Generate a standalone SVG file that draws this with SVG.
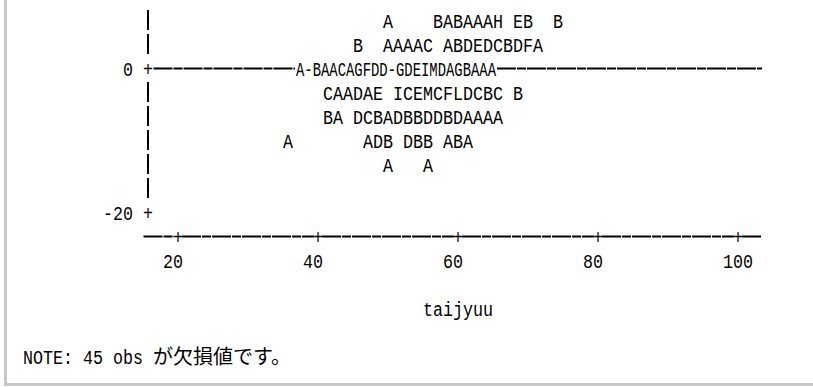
<svg xmlns="http://www.w3.org/2000/svg" width="813" height="387" viewBox="0 0 813 387">
<style>
.t{font-family:"Liberation Mono","DejaVu Sans Mono",monospace;font-size:20px;fill:#000}
.j{font-family:"Noto Sans CJK JP","Liberation Sans",sans-serif;font-size:20px;fill:#000}
.bar{stroke:#000;stroke-width:2;fill:none}
.dash{stroke:#000;stroke-width:2;fill:none;stroke-dasharray:19 1 9 1}
.frame{stroke:#c8c8c8;stroke-width:3;fill:none}
</style>
<g id="frame">
<line class="frame" x1="5.5" y1="0" x2="5.5" y2="385"/>
<line class="frame" x1="4" y1="384.5" x2="813" y2="384.5"/>
</g>
<g id="axes">
<line class="bar" x1="148" y1="10" x2="148" y2="30"/>
<line class="bar" x1="148" y1="34" x2="148" y2="54"/>
<line class="bar" x1="148" y1="82" x2="148" y2="102"/>
<line class="bar" x1="148" y1="106" x2="148" y2="126"/>
<line class="bar" x1="148" y1="130" x2="148" y2="150"/>
<line class="bar" x1="148" y1="154" x2="148" y2="174"/>
<line class="bar" x1="148" y1="178" x2="148" y2="198"/>
<line class="dash" x1="153.5" y1="68.5" x2="295" y2="68.5"/>
<line class="dash" x1="497" y1="68.5" x2="762" y2="68.5"/>
<line class="dash" x1="143.5" y1="236.5" x2="174" y2="236.5"/>
<line class="dash" x1="182" y1="236.5" x2="314" y2="236.5"/>
<line class="dash" x1="322" y1="236.5" x2="454" y2="236.5"/>
<line class="dash" x1="462" y1="236.5" x2="594" y2="236.5"/>
<line class="dash" x1="602" y1="236.5" x2="734" y2="236.5"/>
<line class="dash" x1="742" y1="236.5" x2="762" y2="236.5"/>
<text class="t" x="143" y="76" textLength="10" lengthAdjust="spacingAndGlyphs">+</text>
<text class="t" x="143" y="220" textLength="10" lengthAdjust="spacingAndGlyphs">+</text>
<text class="t" x="173" y="244" textLength="10" lengthAdjust="spacingAndGlyphs">+</text>
<text class="t" x="313" y="244" textLength="10" lengthAdjust="spacingAndGlyphs">+</text>
<text class="t" x="453" y="244" textLength="10" lengthAdjust="spacingAndGlyphs">+</text>
<text class="t" x="593" y="244" textLength="10" lengthAdjust="spacingAndGlyphs">+</text>
<text class="t" x="733" y="244" textLength="10" lengthAdjust="spacingAndGlyphs">+</text>
<text class="t" x="123" y="76" textLength="10" lengthAdjust="spacingAndGlyphs">0</text>
<text class="t" x="103" y="220" textLength="30" lengthAdjust="spacingAndGlyphs">-20</text>
<text class="t" x="163" y="268" textLength="20" lengthAdjust="spacingAndGlyphs">20</text>
<text class="t" x="303" y="268" textLength="20" lengthAdjust="spacingAndGlyphs">40</text>
<text class="t" x="443" y="268" textLength="20" lengthAdjust="spacingAndGlyphs">60</text>
<text class="t" x="583" y="268" textLength="20" lengthAdjust="spacingAndGlyphs">80</text>
<text class="t" x="723" y="268" textLength="30" lengthAdjust="spacingAndGlyphs">100</text>
<text class="t" x="423" y="316" textLength="70" lengthAdjust="spacingAndGlyphs">taijyuu</text>
</g>
<g id="points">
<text class="t" xml:space="preserve" x="383" y="28" textLength="180" lengthAdjust="spacingAndGlyphs">A    BABAAAH EB  B</text>
<text class="t" xml:space="preserve" x="353" y="52" textLength="190" lengthAdjust="spacingAndGlyphs">B  AAAAC ABDEDCBDFA</text>
<text class="t" x="296" y="76" textLength="200" lengthAdjust="spacingAndGlyphs">A-BAACAGFDD-GDEIMDAGBAAA</text>
<text class="t" xml:space="preserve" x="323" y="100" textLength="200" lengthAdjust="spacingAndGlyphs">CAADAE ICEMCFLDCBC B</text>
<text class="t" xml:space="preserve" x="323" y="124" textLength="180" lengthAdjust="spacingAndGlyphs">BA DCBADBBDDBDAAAA</text>
<text class="t" xml:space="preserve" x="283" y="148" textLength="190" lengthAdjust="spacingAndGlyphs">A       ADB DBB ABA</text>
<text class="t" xml:space="preserve" x="383" y="172" textLength="50" lengthAdjust="spacingAndGlyphs">A   A</text>
</g>
<g id="note">
<text class="t" xml:space="preserve" x="23" y="364" textLength="120" lengthAdjust="spacingAndGlyphs">NOTE: 45 obs</text>
<text class="j" x="153" y="364">が欠損値です。</text>
</g>
</svg>
